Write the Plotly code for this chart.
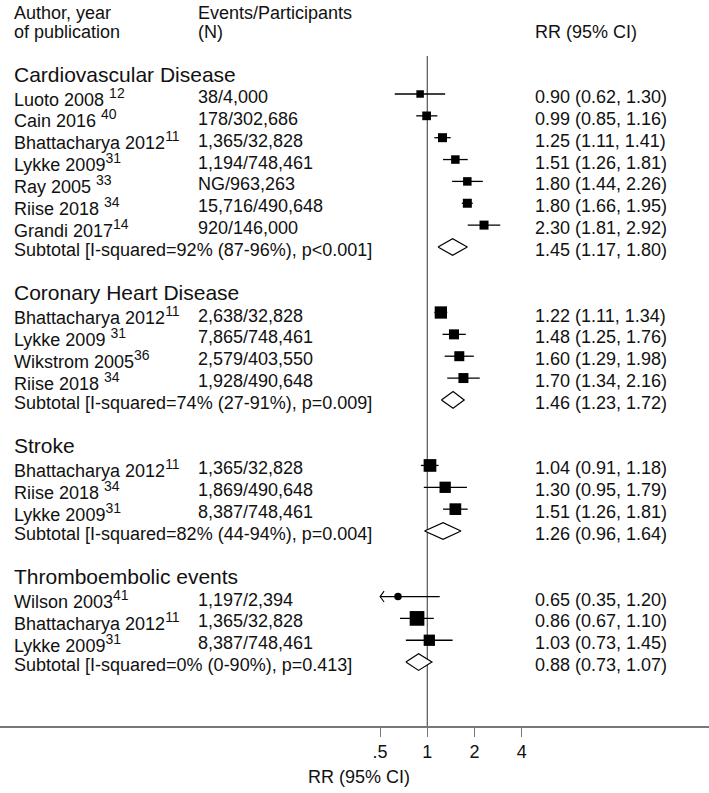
import math
import plotly.graph_objects as go

# ---------------- data ----------------
group_names = ["Cardiovascular Disease", "Coronary Heart Disease", "Stroke", "Thromboembolic events"]

study_group = [0, 0, 0, 0, 0, 0, 0, 1, 1, 1, 1, 2, 2, 2, 3, 3, 3]
study_name = ["Luoto 2008", "Cain 2016", "Bhattacharya 2012", "Lykke 2009", "Ray 2005", "Riise 2018", "Grandi 2017",
              "Bhattacharya 2012", "Lykke 2009", "Wikstrom 2005", "Riise 2018",
              "Bhattacharya 2012", "Riise 2018", "Lykke 2009",
              "Wilson 2003", "Bhattacharya 2012", "Lykke 2009"]
study_ref = ["12", "40", "11", "31", "33", "34", "14",
             "11", "31", "36", "34",
             "11", "34", "31",
             "41", "11", "31"]
ref_spaced = [True, True, False, False, True, True, False,
              False, True, False, True,
              False, True, False,
              False, False, False]
study_events = ["38/4,000", "178/302,686", "1,365/32,828", "1,194/748,461", "NG/963,263", "15,716/490,648", "920/146,000",
                "2,638/32,828", "7,865/748,461", "2,579/403,550", "1,928/490,648",
                "1,365/32,828", "1,869/490,648", "8,387/748,461",
                "1,197/2,394", "1,365/32,828", "8,387/748,461"]
study_rr = [0.90, 0.99, 1.25, 1.51, 1.80, 1.80, 2.30,
            1.22, 1.48, 1.60, 1.70,
            1.04, 1.30, 1.51,
            0.65, 0.86, 1.03]
study_lo = [0.62, 0.85, 1.11, 1.26, 1.44, 1.66, 1.81,
            1.11, 1.25, 1.29, 1.34,
            0.91, 0.95, 1.26,
            0.35, 0.67, 0.73]
study_hi = [1.30, 1.16, 1.41, 1.81, 2.26, 1.95, 2.92,
            1.34, 1.76, 1.98, 2.16,
            1.18, 1.79, 1.81,
            1.20, 1.10, 1.45]

sub_i2 = ["92% (87-96%)", "74% (27-91%)", "82% (44-94%)", "0% (0-90%)"]
sub_p = ["p&lt;0.001", "p=0.009", "p=0.004", "p=0.413"]
sub_rr = [1.45, 1.46, 1.26, 0.88]
sub_lo = [1.17, 1.23, 0.96, 0.73]
sub_hi = [1.80, 1.72, 1.64, 1.07]

tick_vals = [0.5, 1, 2, 4]
tick_text = [".5", "1", "2", "4"]
axis_title = "RR (95% CI)"

# ---------------- style ----------------
box_px = [7.5, 8.7, 9, 8.5, 8.5, 9, 9,
          12.3, 10, 10, 10,
          12.7, 11.3, 11.7,
          7.5, 14.7, 11.3]
FONT = "Liberation Sans, Arial, sans-serif"
TXT = "#111111"
W, H = 709, 793
B = 67
ROW_PX = 21.85
FIRST_ROW_Y = 94.0
ONE_PX = 427.3
PX_PER_DEC = 47.2 / math.log10(2)
clip_lo = 0.5

plot_h = H - B
y_top = 1 - FIRST_ROW_Y / ROW_PX
y_bot = 1 + (plot_h - FIRST_ROW_Y) / ROW_PX
x_lo = -ONE_PX / PX_PER_DEC
x_hi = (W - ONE_PX) / PX_PER_DEC


def px_to_row(py):
    return 1 + (py - FIRST_ROW_Y) / ROW_PX


# ---------------- layout rows ----------------
rows_study = []
rows_header = []
rows_sub = []
r = 0
for g in range(len(group_names)):
    rows_header.append(r)
    r += 1
    for i, sg in enumerate(study_group):
        if sg == g:
            rows_study.append(r)
            r += 1
    rows_sub.append(r)
    r += 2

fig = go.Figure()

# reference line at 1
fig.add_trace(go.Scatter(x=[1, 1], y=[px_to_row(56), y_bot], mode="lines",
                         line=dict(color="#555555", width=1.2), hoverinfo="skip", showlegend=False))

# whiskers
wx, wy = [], []
ax_, ay_ = [], []
arrow_f = 10 ** (4 / PX_PER_DEC)
for i in range(len(study_rr)):
    lo = max(study_lo[i], clip_lo)
    wx += [lo, study_hi[i], None]
    wy += [rows_study[i], rows_study[i], None]
    if study_lo[i] < clip_lo:
        ax_ += [clip_lo * arrow_f, clip_lo, clip_lo * arrow_f, None]
        ay_ += [rows_study[i] - 0.25, rows_study[i], rows_study[i] + 0.25, None]
fig.add_trace(go.Scatter(x=wx, y=wy, mode="lines", line=dict(color="black", width=1.3),
                         hoverinfo="skip", showlegend=False))
fig.add_trace(go.Scatter(x=ax_, y=ay_, mode="lines", line=dict(color="black", width=1.1),
                         hoverinfo="skip", showlegend=False))

# boxes
symbols = ["circle" if study_lo[i] < clip_lo else "square" for i in range(len(study_rr))]
fig.add_trace(go.Scatter(x=study_rr, y=rows_study, mode="markers",
                         marker=dict(symbol=symbols, size=box_px, color="black", opacity=1,
                                     line=dict(width=0)),
                         showlegend=False))

# diamonds
for g in range(len(group_names)):
    rr_, lo_, hi_, y = sub_rr[g], sub_lo[g], sub_hi[g], rows_sub[g]
    fig.add_trace(go.Scatter(x=[lo_, rr_, hi_, rr_, lo_], y=[y, y - 0.38, y, y + 0.38, y],
                             mode="lines", fill="toself", fillcolor="white",
                             line=dict(color="black", width=1.2), hoverinfo="skip", showlegend=False))

# ---------------- text ----------------
X_NAME = 12 / W
X_EV = 196 / W
X_EST = 533 / W
ann = []


def txt(x, y, s, size=18, yshift=-3):
    ann.append(dict(x=x, y=y, xref="paper", yref="y", text=s, showarrow=False,
                    xanchor="left", yanchor="middle", yshift=yshift,
                    font=dict(family=FONT, size=size, color=TXT)))


txt(X_NAME, px_to_row(12.5), "Author, year", yshift=0)
txt(X_NAME, px_to_row(32), "of publication", yshift=0)
txt(X_EV, px_to_row(12.5), "Events/Participants", yshift=0)
txt(X_EV, px_to_row(32), "(N)", yshift=0)
txt(X_EST, px_to_row(32), "RR (95% CI)", yshift=0)

for g in range(len(group_names)):
    txt(X_NAME, rows_header[g], group_names[g], size=21, yshift=-2)
    txt(X_NAME, rows_sub[g], "Subtotal [I-squared=%s, %s]" % (sub_i2[g], sub_p[g]))
    txt(X_EST, rows_sub[g], "%.2f (%.2f, %.2f)" % (sub_rr[g], sub_lo[g], sub_hi[g]))

for i in range(len(study_rr)):
    sep = " " if ref_spaced[i] else ""
    txt(X_NAME, rows_study[i], "%s%s<sup><span style='font-size:14px'>%s</span></sup>"
        % (study_name[i], sep, study_ref[i]))
    txt(X_EV, rows_study[i], study_events[i])
    txt(X_EST, rows_study[i], "%.2f (%.2f, %.2f)" % (study_rr[i], study_lo[i], study_hi[i]))

ann.append(dict(x=359 / W, y=(plot_h - 777) / plot_h, xref="paper", yref="paper", text=axis_title,
                showarrow=False, xanchor="center", yanchor="middle",
                font=dict(family=FONT, size=18, color=TXT)))

fig.update_layout(
    width=W, height=H,
    margin=dict(l=0, r=0, t=0, b=B, pad=0),
    paper_bgcolor="white", plot_bgcolor="white",
    showlegend=False,
    annotations=ann,
    xaxis=dict(type="log", range=[x_lo, x_hi], tickvals=tick_vals, ticktext=tick_text,
               showgrid=False, zeroline=False, showline=True, linecolor="#777777", linewidth=1.5,
               ticks="outside", ticklen=9, tickwidth=1.3, tickcolor="#777777",
               tickfont=dict(family=FONT, size=18, color=TXT), fixedrange=True),
    yaxis=dict(range=[y_bot, y_top], visible=False, showgrid=False, zeroline=False, fixedrange=True),
)

fig.write_html("out.html", config={"displayModeBar": False},
               post_script="document.body.style.margin='0';document.body.style.overflow='hidden';")
